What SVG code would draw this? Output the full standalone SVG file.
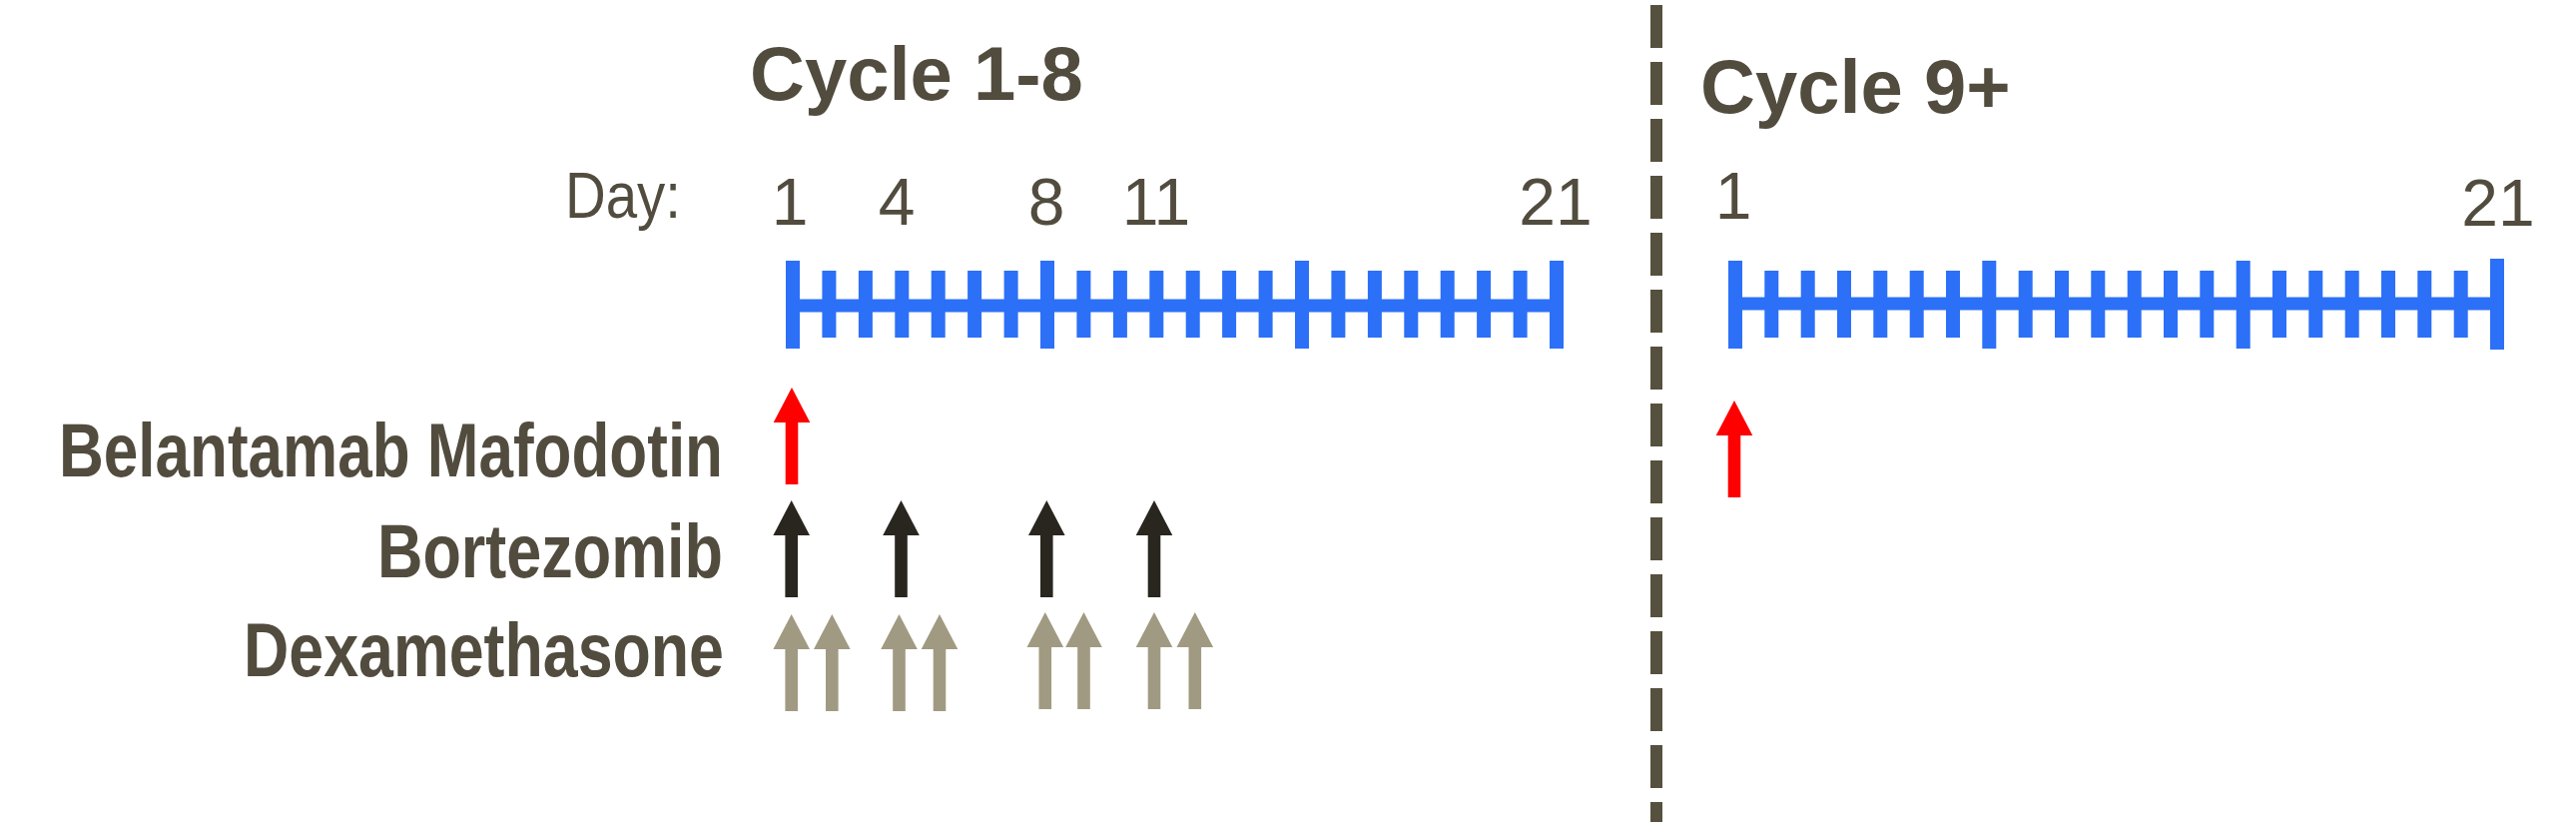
<svg xmlns="http://www.w3.org/2000/svg" xmlns:xlink="http://www.w3.org/1999/xlink" width="2580" height="831" viewBox="0 0 2580 831">
<style>
.title{font-family:"Liberation Sans",Arial,sans-serif;font-weight:bold;font-size:76px;fill:#524c3f}
.drug{font-family:"Liberation Sans",Arial,sans-serif;font-weight:bold;font-size:76px;fill:#524c3f}
.day{font-family:"Liberation Sans",Arial,sans-serif;font-size:66px;fill:#524c3f;text-anchor:middle}
.daylbl{font-family:"Liberation Sans",Arial,sans-serif;font-size:64px;fill:#524c3f}
.tl rect{fill:#2c70f8}
.red{fill:#ff0000}
.blk{fill:#29261f}
.gry{fill:#a19a82}
</style>
<defs>
<path id="arrow" d="M0,0 L18.3,35 L6.3,35 L6.3,97 L-6.3,97 L-6.3,35 L-18.3,35 Z"/>
</defs>
<rect width="2580" height="831" fill="#ffffff"/>

<g id="divider">
<line x1="1659" y1="5" x2="1659" y2="823" stroke="#56503f" stroke-width="12" stroke-dasharray="43 14"/>
</g>

<g id="titles">
<text class="title" x="751" y="100">Cycle 1-8</text>
<text class="title" x="1703" y="113">Cycle 9+</text>
</g>

<g id="day-labels">
<text class="daylbl" x="566" y="218" textLength="116" lengthAdjust="spacingAndGlyphs">Day:</text>
<text class="day" x="791" y="225">1</text>
<text class="day" x="898" y="225">4</text>
<text class="day" x="1048" y="225">8</text>
<text class="day" x="1158" y="225">11</text>
<text class="day" x="1558" y="225">21</text>
<text class="day" x="1736" y="219">1</text>
<text class="day" x="2502" y="226">21</text>
</g>

<g id="timeline-1" class="tl">
<rect x="794" y="299.5" width="765" height="13"/>
<rect x="787" y="261" width="14" height="88"/>
<rect x="823.4" y="271" width="14" height="67"/>
<rect x="859.9" y="271" width="14" height="67"/>
<rect x="896.3" y="271" width="14" height="67"/>
<rect x="932.7" y="271" width="14" height="67"/>
<rect x="969.1" y="271" width="14" height="67"/>
<rect x="1005.6" y="271" width="14" height="67"/>
<rect x="1042" y="261" width="14" height="88"/>
<rect x="1078.4" y="271" width="14" height="67"/>
<rect x="1114.9" y="271" width="14" height="67"/>
<rect x="1151.3" y="271" width="14" height="67"/>
<rect x="1187.7" y="271" width="14" height="67"/>
<rect x="1224.1" y="271" width="14" height="67"/>
<rect x="1260.6" y="271" width="14" height="67"/>
<rect x="1297" y="261" width="14" height="88"/>
<rect x="1333.4" y="271" width="14" height="67"/>
<rect x="1369.9" y="271" width="14" height="67"/>
<rect x="1406.3" y="271" width="14" height="67"/>
<rect x="1442.7" y="271" width="14" height="67"/>
<rect x="1479.1" y="271" width="14" height="67"/>
<rect x="1515.6" y="271" width="14" height="67"/>
<rect x="1552" y="261" width="14" height="88"/>
</g>

<g id="timeline-2" class="tl">
<rect x="1738" y="297.5" width="763" height="13"/>
<rect x="1731" y="261" width="14" height="88"/>
<rect x="1767.3" y="271" width="14" height="67"/>
<rect x="1803.7" y="271" width="14" height="67"/>
<rect x="1840" y="271" width="14" height="67"/>
<rect x="1876.3" y="271" width="14" height="67"/>
<rect x="1912.7" y="271" width="14" height="67"/>
<rect x="1949" y="271" width="14" height="67"/>
<rect x="1985.3" y="261" width="14" height="88"/>
<rect x="2021.7" y="271" width="14" height="67"/>
<rect x="2058" y="271" width="14" height="67"/>
<rect x="2094.3" y="271" width="14" height="67"/>
<rect x="2130.7" y="271" width="14" height="67"/>
<rect x="2167" y="271" width="14" height="67"/>
<rect x="2203.3" y="271" width="14" height="67"/>
<rect x="2239.7" y="261" width="14" height="88"/>
<rect x="2276" y="271" width="14" height="67"/>
<rect x="2312.3" y="271" width="14" height="67"/>
<rect x="2348.7" y="271" width="14" height="67"/>
<rect x="2385" y="271" width="14" height="67"/>
<rect x="2421.3" y="271" width="14" height="67"/>
<rect x="2457.7" y="271" width="14" height="67"/>
<rect x="2494" y="259" width="14" height="91"/>
</g>

<g id="drug-labels">
<text class="drug" x="59" y="477" textLength="665" lengthAdjust="spacingAndGlyphs">Belantamab Mafodotin</text>
<text class="drug" x="378" y="578" textLength="346" lengthAdjust="spacingAndGlyphs">Bortezomib</text>
<text class="drug" x="244" y="677" textLength="481" lengthAdjust="spacingAndGlyphs">Dexamethasone</text>
</g>

<g id="arrows">
<use xlink:href="#arrow" href="#arrow" class="red" x="793" y="388"/>
<use xlink:href="#arrow" href="#arrow" class="red" x="1737" y="401"/>
<use xlink:href="#arrow" href="#arrow" class="blk" x="792.7" y="501"/>
<use xlink:href="#arrow" href="#arrow" class="blk" x="902.5" y="501"/>
<use xlink:href="#arrow" href="#arrow" class="blk" x="1048.3" y="501"/>
<use xlink:href="#arrow" href="#arrow" class="blk" x="1156" y="501"/>
<use xlink:href="#arrow" href="#arrow" class="gry" x="792.7" y="615"/>
<use xlink:href="#arrow" href="#arrow" class="gry" x="833.3" y="615"/>
<use xlink:href="#arrow" href="#arrow" class="gry" x="900.5" y="615"/>
<use xlink:href="#arrow" href="#arrow" class="gry" x="941" y="615"/>
<use xlink:href="#arrow" href="#arrow" class="gry" x="1046.8" y="613"/>
<use xlink:href="#arrow" href="#arrow" class="gry" x="1085.5" y="613"/>
<use xlink:href="#arrow" href="#arrow" class="gry" x="1156" y="613"/>
<use xlink:href="#arrow" href="#arrow" class="gry" x="1196.8" y="613"/>
</g>
</svg>
